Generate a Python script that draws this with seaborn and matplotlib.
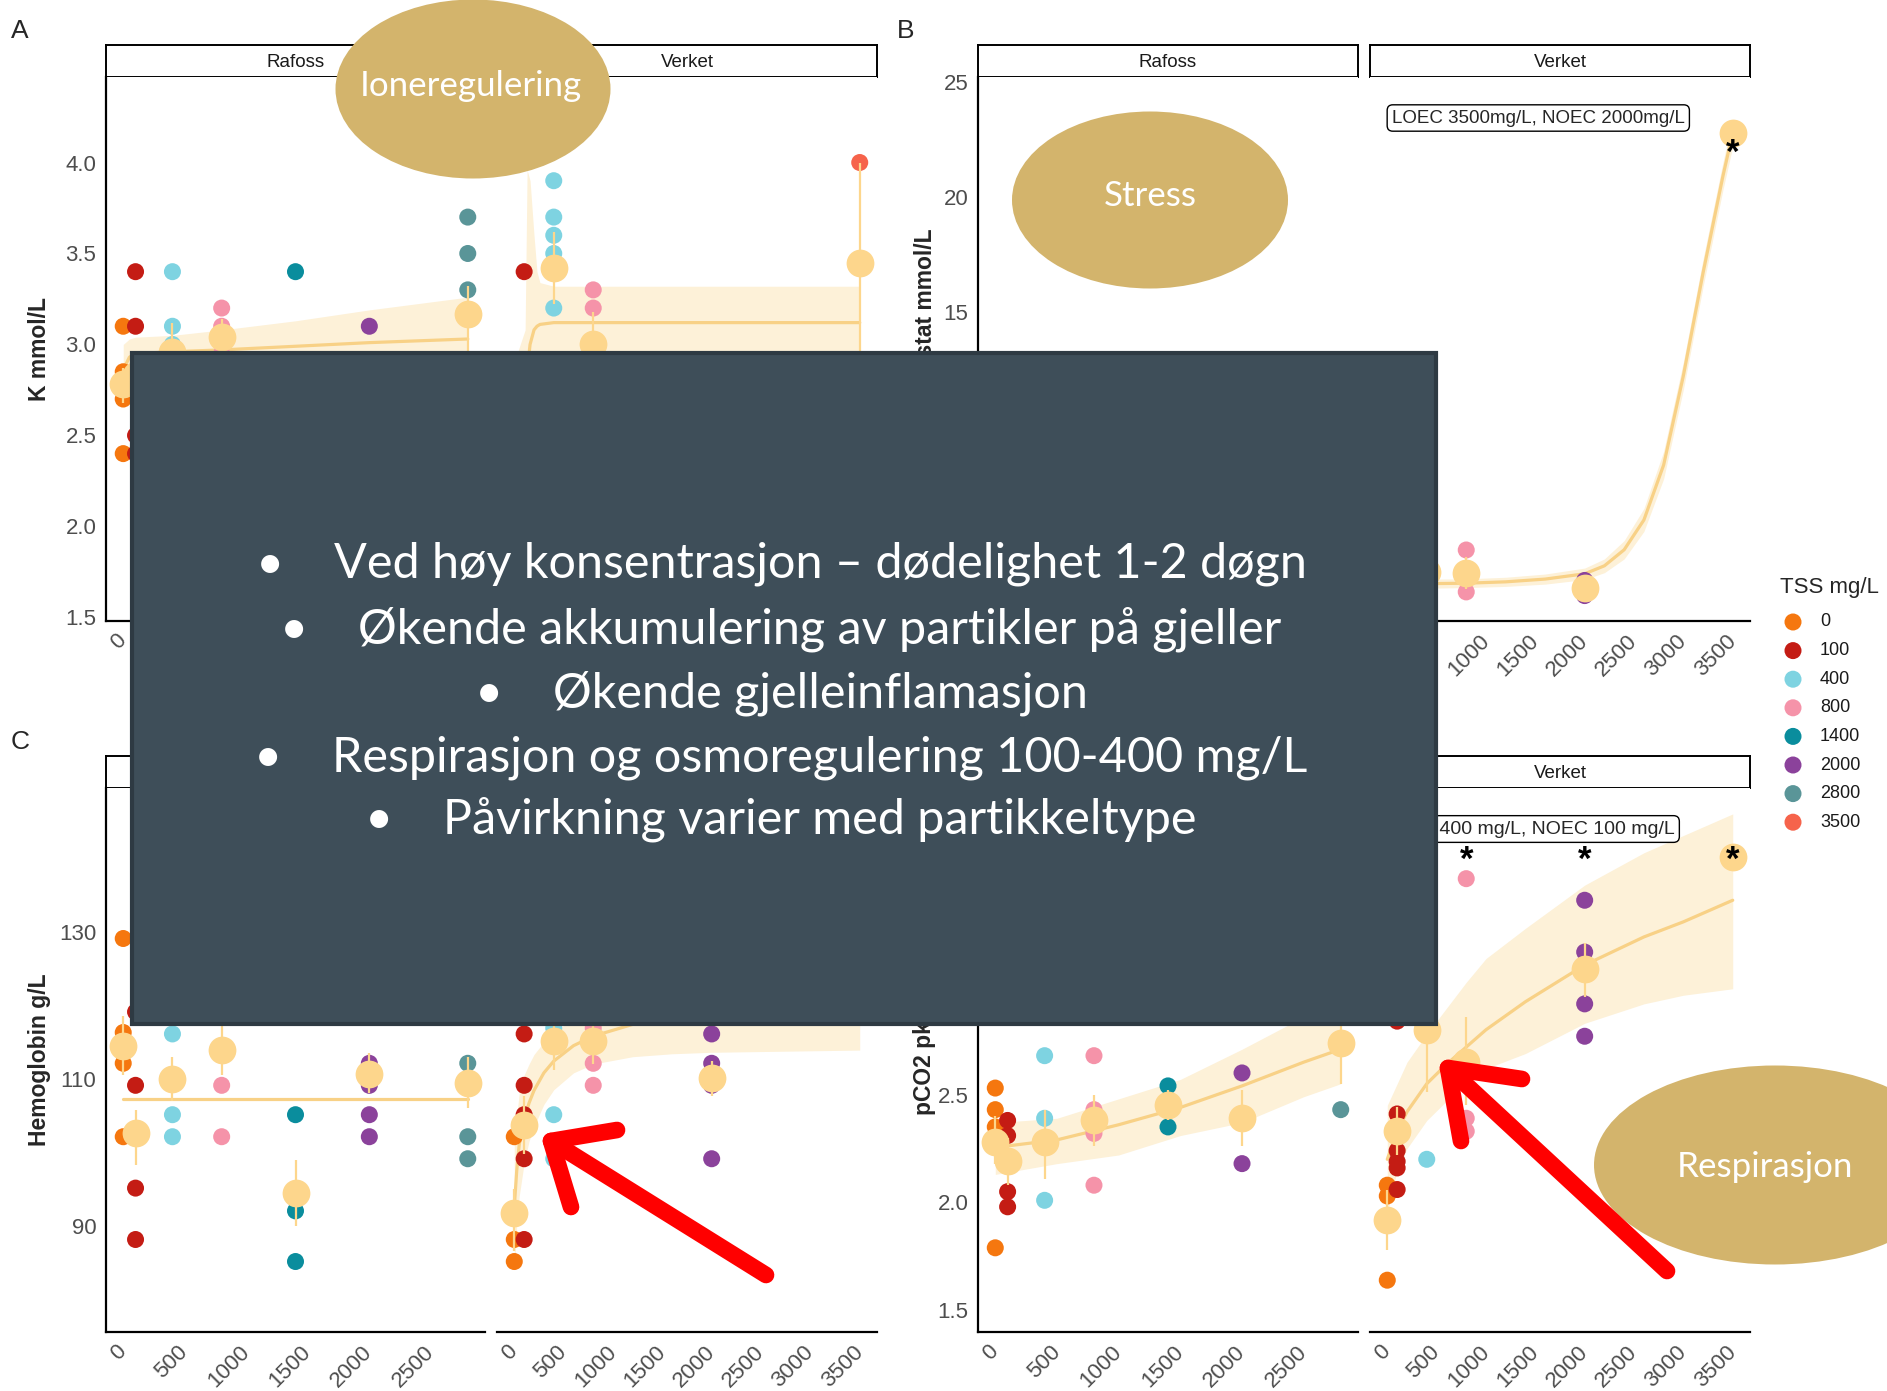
import matplotlib
matplotlib.use("Agg")
import matplotlib.pyplot as plt
import seaborn as sns
from matplotlib.patches import Ellipse, Rectangle

W, H = 1887, 1391

# TSS-nivåer og farger
tss_levels = [0, 100, 400, 800, 1400, 2000, 2800, 3500]
tss_colors = ['#F5770F', '#C41C14', '#7ED3E1', '#F593A9', '#0A8D9D', '#8B429B', '#5A9598', '#F6634B']
MEAN_COL = '#FDD68C'
FIT_COL = '#F8D186'
RIBBON_COL = '#FDF1D8'

# --- A: K mmol/L ---
k_raf_tss = [0, 0, 0, 0, 100, 100, 100, 100, 400, 400, 400, 400, 400, 800, 800, 800, 800,
             1400, 1400, 1400, 2000, 2000, 2800, 2800, 2800, 2800, 2800]
k_raf_val = [3.1, 2.7, 2.4, 2.85, 3.4, 3.1, 2.5, 2.4, 3.4, 3.1, 3.0, 2.75, 2.6, 3.2, 3.1, 2.95, 2.9,
             3.4, 2.6, 2.4, 3.1, 2.5, 3.7, 3.5, 3.3, 2.9, 2.5]
k_raf_m_tss = [0, 100, 400, 800, 1400, 2000, 2800]
k_raf_mean = [2.78, 2.83, 2.96, 3.04, 2.75, 2.7, 3.17]
k_raf_lo = [2.68, 2.6, 2.8, 2.94, 2.55, 2.55, 2.94]
k_raf_hi = [2.87, 2.95, 3.12, 3.14, 2.92, 2.88, 3.32]
k_raf_fit_x = [0, 50, 100, 400, 800, 1400, 2000, 2800]
k_raf_fit_y = [2.86, 2.93, 2.95, 2.96, 2.97, 2.99, 3.01, 3.03]
k_raf_fit_lo = [2.70, 2.82, 2.86, 2.87, 2.86, 2.84, 2.82, 2.80]
k_raf_fit_hi = [3.00, 3.03, 3.04, 3.05, 3.08, 3.13, 3.19, 3.26]

k_ver_tss = [0, 0, 0, 100, 100, 100, 400, 400, 400, 400, 400, 800, 800, 800, 800, 2000, 2000, 3500, 3500]
k_ver_val = [2.6, 2.4, 2.8, 3.4, 2.7, 2.5, 3.9, 3.7, 3.6, 3.5, 3.2, 3.3, 3.2, 2.8, 2.7, 2.9, 2.8, 4.0, 2.9]
k_ver_m_tss = [0, 100, 400, 800, 2000, 3500]
k_ver_mean = [2.6, 2.8, 3.42, 3.0, 2.85, 3.45]
k_ver_lo = [2.45, 2.62, 3.22, 2.82, 2.8, 2.9]
k_ver_hi = [2.75, 2.95, 3.62, 3.18, 2.9, 4.0]
k_ver_fit_x = [0, 60, 110, 130, 160, 200, 230, 260, 400, 1000, 2000, 3500]
k_ver_fit_y = [2.2, 2.45, 2.7, 2.85, 3.0, 3.08, 3.10, 3.11, 3.12, 3.12, 3.12, 3.12]
k_ver_fit_lo = [1.5, 1.9, 2.3, 2.5, 2.7, 2.84, 2.88, 2.9, 2.92, 2.93, 2.93, 2.93]
k_ver_fit_hi = [2.9, 3.0, 3.08, 3.96, 3.9, 3.6, 3.4, 3.34, 3.32, 3.32, 3.32, 3.32]

# --- B: Laktat mmol/L ---
lak_raf_tss = [0, 0, 100, 100, 400, 400, 800, 800, 1400, 1400, 2000, 2000, 2800, 2800]
lak_raf_val = [2.8, 3.4, 3.0, 3.6, 3.2, 2.7, 3.5, 2.9, 3.1, 3.8, 3.3, 2.6, 3.9, 3.4]
lak_raf_m_tss = [0, 100, 400, 800, 1400, 2000, 2800]
lak_raf_mean = [3.1, 3.3, 2.95, 3.2, 3.45, 2.95, 3.65]
lak_raf_lo = [2.8, 3.0, 2.7, 2.9, 3.1, 2.6, 3.4]
lak_raf_hi = [3.4, 3.6, 3.2, 3.5, 3.8, 3.3, 3.9]
lak_raf_fit_x = [0, 1000, 2000, 2800]
lak_raf_fit_y = [3.1, 3.2, 3.3, 3.4]
lak_raf_fit_lo = [2.8, 3.0, 3.0, 2.9]
lak_raf_fit_hi = [3.4, 3.4, 3.6, 3.9]

lak_ver_tss = [0, 0, 100, 100, 400, 400, 800, 800, 2000, 2000, 3500]
lak_ver_val = [3.0, 2.6, 3.5, 2.9, 4.1, 3.1, 4.59, 2.76, 3.26, 2.60, 22.8]
lak_ver_m_tss = [0, 100, 400, 800, 2000, 3500]
lak_ver_mean = [2.8, 3.2, 3.65, 3.58, 2.95, 22.8]
lak_ver_lo = [2.6, 2.9, 3.1, 2.9, 2.65, 22.8]
lak_ver_hi = [3.0, 3.5, 4.1, 4.3, 3.25, 22.8]
lak_ver_fit_x = [0, 400, 800, 1200, 1600, 2000, 2200, 2400, 2600, 2800, 3000, 3200, 3400, 3500]
lak_ver_fit_y = [3.10, 3.12, 3.14, 3.2, 3.32, 3.55, 3.9, 4.6, 5.9, 8.3, 12.2, 16.7, 20.9, 22.8]
lak_ver_fit_lo = [2.85, 2.92, 2.95, 3.0, 3.1, 3.3, 3.6, 4.2, 5.4, 7.7, 11.6, 16.1, 20.3, 22.2]
lak_ver_fit_hi = [3.35, 3.32, 3.33, 3.4, 3.54, 3.8, 4.2, 5.0, 6.4, 8.9, 12.8, 17.3, 21.5, 23.4]

# --- C: Hemoglobin g/L ---
hb_raf_tss = [0, 0, 0, 0, 100, 100, 100, 100, 400, 400, 400, 400, 800, 800, 800, 800,
              1400, 1400, 1400, 2000, 2000, 2000, 2000, 2800, 2800, 2800]
hb_raf_val = [129.1, 116.3, 112.1, 102.1, 119.1, 109.1, 95.1, 88.1, 116.1, 105.1, 102.1, 120.0,
              109.1, 102.1, 125.0, 128.0, 105.1, 92.0, 85.1, 112.1, 109.1, 105.1, 102.1, 112.1, 102.1, 99.1]
hb_raf_m_tss = [0, 100, 400, 800, 1400, 2000, 2800]
hb_raf_mean = [114.5, 102.6, 109.9, 113.9, 94.5, 110.6, 109.4]
hb_raf_lo = [110.5, 98.3, 107.0, 110.5, 89.9, 108.0, 106.0]
hb_raf_hi = [118.5, 105.8, 113.0, 118.5, 98.9, 113.5, 113.0]
hb_raf_fit_x = [0, 2800]
hb_raf_fit_y = [107.2, 107.2]

hb_ver_tss = [0, 0, 0, 100, 100, 100, 100, 100, 400, 400, 400, 400, 800, 800, 800, 800,
              2000, 2000, 2000, 2000, 3500]
hb_ver_val = [102.1, 88.1, 85.1, 116.1, 109.1, 105.1, 99.1, 88.1, 116.9, 105.1, 99.1, 130.0,
              116.9, 112.1, 109.1, 122.0, 116.1, 112.1, 109.1, 99.1, 124.0]
hb_ver_m_tss = [0, 100, 400, 800, 2000, 3500]
hb_ver_mean = [91.7, 103.7, 115.1, 115.1, 110.1, 124.0]
hb_ver_lo = [86.6, 99.8, 111.2, 112.0, 107.6, 120.0]
hb_ver_hi = [95.0, 107.6, 119.0, 118.2, 112.4, 128.0]
hb_ver_fit_x = [0, 25, 50, 100, 150, 200, 300, 400, 600, 800, 1200, 1600, 2000, 2500, 3000, 3500]
hb_ver_fit_y = [92.5, 97.5, 101.0, 104.5, 106.7, 108.4, 110.8, 112.4, 114.5, 115.8, 117.4, 118.4,
                119.0, 119.6, 120.0, 120.3]
hb_ver_fit_lo = [84.0, 90.0, 94.0, 98.5, 101.5, 103.5, 106.5, 108.5, 110.8, 112.0, 113.0, 113.4,
                 113.6, 113.7, 113.8, 113.9]
hb_ver_fit_hi = [101.0, 105.0, 108.0, 110.5, 112.0, 113.3, 115.0, 116.3, 118.2, 119.6, 121.8, 123.4,
                 124.4, 125.5, 126.2, 126.7]

# --- D: pCO2 ---
pco_raf_tss = [0, 0, 0, 0, 100, 100, 100, 100, 400, 400, 400, 800, 800, 800, 800,
               1400, 1400, 2000, 2000, 2800, 2800, 2800]
pco_raf_val = [2.53, 2.43, 2.35, 1.79, 2.38, 2.31, 2.05, 1.98, 2.68, 2.39, 2.01, 2.68, 2.43, 2.32, 2.08,
               2.54, 2.35, 2.60, 2.18, 2.43, 3.05, 2.95]
pco_raf_m_tss = [0, 100, 400, 800, 1400, 2000, 2800]
pco_raf_mean = [2.28, 2.19, 2.28, 2.38, 2.45, 2.39, 2.74]
pco_raf_lo = [2.18, 2.08, 2.11, 2.26, 2.38, 2.26, 2.55]
pco_raf_hi = [2.40, 2.30, 2.43, 2.50, 2.52, 2.52, 2.86]
pco_raf_fit_x = [0, 500, 1000, 1500, 2000, 2500, 2800]
pco_raf_fit_y = [2.255, 2.29, 2.36, 2.44, 2.54, 2.65, 2.71]
pco_raf_fit_lo = [2.13, 2.18, 2.22, 2.31, 2.37, 2.49, 2.55]
pco_raf_fit_hi = [2.37, 2.39, 2.48, 2.57, 2.71, 2.86, 2.92]

pco_ver_tss = [0, 0, 0, 100, 100, 100, 100, 100, 100, 400, 400, 400, 800, 800, 800,
               2000, 2000, 2000, 2000, 3500]
pco_ver_val = [2.08, 2.03, 1.64, 2.41, 2.24, 2.19, 2.16, 2.06, 2.84, 2.20, 3.1, 3.2, 3.50, 2.39, 2.33,
               3.40, 3.16, 2.92, 2.77, 3.60]
pco_ver_m_tss = [0, 100, 400, 800, 2000, 3500]
pco_ver_mean = [1.92, 2.33, 2.80, 2.65, 3.08, 3.60]
pco_ver_lo = [1.78, 2.22, 2.51, 2.45, 2.95, 3.60]
pco_ver_hi = [2.06, 2.44, 3.09, 2.86, 3.20, 3.60]
pco_ver_fit_x = [0, 100, 200, 400, 600, 800, 1000, 1400, 2000, 2600, 3000, 3500]
pco_ver_fit_y = [2.2, 2.33, 2.42, 2.55, 2.64, 2.72, 2.80, 2.93, 3.10, 3.23, 3.30, 3.40]
pco_ver_fit_lo = [1.95, 2.15, 2.25, 2.38, 2.47, 2.55, 2.62, 2.69, 2.83, 2.92, 2.96, 2.99]
pco_ver_fit_hi = [2.45, 2.55, 2.65, 2.78, 2.90, 3.02, 3.13, 3.27, 3.47, 3.62, 3.70, 3.80]

bullet_lines = ["Ved høy konsentrasjon – dødelighet 1-2 døgn",
                "Økende akkumulering av partikler på gjeller",
                "Økende gjelleinflamasjon",
                "Respirasjon og osmoregulering 100-400 mg/L",
                "Påvirkning varier med partikkeltype"]

PAL = {str(t): c for t, c in zip(tss_levels, tss_colors)}

sns.set_style("white")
plt.rcParams['font.family'] = ['Liberation Sans', 'DejaVu Sans']
BOXFONT = ['Lato', 'DejaVu Sans']

fig = plt.figure(figsize=(W / 100, H / 100), dpi=100)


def px_axes(x0, x1, y0, y1):
    return fig.add_axes([x0 / W, 1 - y1 / H, (x1 - x0) / W, (y1 - y0) / H])


def strip(x0, x1, y0, y1, label):
    sa = px_axes(x0, x1, y0, y1)
    sa.set_xticks([])
    sa.set_yticks([])
    for sp in sa.spines.values():
        sp.set_linewidth(1.4)
        sp.set_color('black')
    sa.text(0.5, 0.45, label, ha='center', va='center', fontsize=13.5, color='#1A1A1A',
            transform=sa.transAxes)


def facet(ax, tss, val, m_tss, m_val, m_lo, m_hi, fit_x, fit_y, fit_lo, fit_hi,
          xmax, ylim, yticks, yfmt, left):
    if fit_lo is not None:
        ax.fill_between(fit_x, fit_lo, fit_hi, color=RIBBON_COL, lw=0, zorder=1)
    ax.plot(fit_x, fit_y, color=FIT_COL, lw=2.3, zorder=2)
    sns.scatterplot(x=tss, y=val, hue=[str(t) for t in tss], palette=PAL, s=150, linewidth=0,
                    legend=False, ax=ax, zorder=3)
    ax.vlines(m_tss, m_lo, m_hi, color=MEAN_COL, lw=1.6, zorder=4)
    sns.scatterplot(x=m_tss, y=m_val, color=MEAN_COL, s=400, linewidth=0, legend=False, ax=ax, zorder=5)
    ax.set_xlim(-0.05 * xmax, 1.05 * xmax)
    ax.set_ylim(*ylim)
    xt = list(range(0, xmax + 1, 500))
    ax.set_xticks(xt)
    ax.set_xticklabels([str(v) for v in xt], rotation=45, ha='right', va='center', rotation_mode='anchor')
    ax.set_xlabel('')
    ax.set_ylabel('')
    for s in ['top', 'right']:
        ax.spines[s].set_visible(False)
    for s in ['bottom', 'left']:
        ax.spines[s].set_linewidth(1.6)
        ax.spines[s].set_color('black')
    ax.tick_params(length=4, width=1.2, color='#333333', labelsize=16, labelcolor='#4D4D4D', pad=3)
    ax.tick_params(axis='x', pad=8)
    if left:
        ax.set_yticks(yticks)
        ax.set_yticklabels([yfmt.format(v) for v in yticks])
    else:
        ax.spines['left'].set_visible(False)
        ax.tick_params(axis='y', left=False, labelleft=False)


COL_L = [(106, 485), (497, 877)]
COL_R = [(978, 1358), (1370, 1750)]
ROW_T = (45, 77, 621)
ROW_B = (756, 788, 1332)

panels = [
    (COL_L, ROW_T, (1.48, 4.47), [1.5, 2.0, 2.5, 3.0, 3.5, 4.0], '{:.1f}',
     (k_raf_tss, k_raf_val, k_raf_m_tss, k_raf_mean, k_raf_lo, k_raf_hi,
      k_raf_fit_x, k_raf_fit_y, k_raf_fit_lo, k_raf_fit_hi),
     (k_ver_tss, k_ver_val, k_ver_m_tss, k_ver_mean, k_ver_lo, k_ver_hi,
      k_ver_fit_x, k_ver_fit_y, k_ver_fit_lo, k_ver_fit_hi)),
    (COL_R, ROW_T, (1.49, 25.24), [5, 10, 15, 20, 25], '{:.0f}',
     (lak_raf_tss, lak_raf_val, lak_raf_m_tss, lak_raf_mean, lak_raf_lo, lak_raf_hi,
      lak_raf_fit_x, lak_raf_fit_y, lak_raf_fit_lo, lak_raf_fit_hi),
     (lak_ver_tss, lak_ver_val, lak_ver_m_tss, lak_ver_mean, lak_ver_lo, lak_ver_hi,
      lak_ver_fit_x, lak_ver_fit_y, lak_ver_fit_lo, lak_ver_fit_hi)),
    (COL_L, ROW_B, (75.5, 149.6), [90, 110, 130], '{:.0f}',
     (hb_raf_tss, hb_raf_val, hb_raf_m_tss, hb_raf_mean, hb_raf_lo, hb_raf_hi,
      hb_raf_fit_x, hb_raf_fit_y, None, None),
     (hb_ver_tss, hb_ver_val, hb_ver_m_tss, hb_ver_mean, hb_ver_lo, hb_ver_hi,
      hb_ver_fit_x, hb_ver_fit_y, hb_ver_fit_lo, hb_ver_fit_hi)),
    (COL_R, ROW_B, (1.40, 3.92), [1.5, 2.0, 2.5, 3.0, 3.5], '{:.1f}',
     (pco_raf_tss, pco_raf_val, pco_raf_m_tss, pco_raf_mean, pco_raf_lo, pco_raf_hi,
      pco_raf_fit_x, pco_raf_fit_y, pco_raf_fit_lo, pco_raf_fit_hi),
     (pco_ver_tss, pco_ver_val, pco_ver_m_tss, pco_ver_mean, pco_ver_lo, pco_ver_hi,
      pco_ver_fit_x, pco_ver_fit_y, pco_ver_fit_lo, pco_ver_fit_hi)),
]

verket_axes = []
for cols, row, ylim, yticks, yfmt, raf, ver in panels:
    s0, p0, p1 = row
    (rx0, rx1), (vx0, vx1) = cols
    strip(rx0, rx1, s0, p0, 'Rafoss')
    strip(vx0, vx1, s0, p0, 'Verket')
    ax_r = px_axes(rx0, rx1, p0, p1)
    facet(ax_r, *raf, xmax=2800, ylim=ylim, yticks=yticks, yfmt=yfmt, left=True)
    ax_v = px_axes(vx0, vx1, p0, p1)
    facet(ax_v, *ver, xmax=3500, ylim=ylim, yticks=yticks, yfmt=yfmt, left=False)
    verket_axes.append(ax_v)

# LOEC / NOEC etiketter og stjerner
ax_b, ax_d = verket_axes[1], verket_axes[3]
lbl_box = dict(boxstyle='round,pad=0.25,rounding_size=0.3', fc='white', ec='black', lw=1)
ax_b.text(1530, 23.45, 'LOEC 3500mg/L, NOEC 2000mg/L', ha='center', va='center', fontsize=13.5,
          bbox=lbl_box, zorder=6)
ax_d.text(2910, 3.73, 'LOEC 400 mg/L, NOEC 100 mg/L', ha='right', va='center', fontsize=14,
          bbox=lbl_box, zorder=6)
for ax, xs, y in [(ax_b, [3500], 22.36), (ax_d, [800, 2000, 3500], 3.63)]:
    for x in xs:
        ax.annotate('*', (x, y), xytext=(0, -14), textcoords='offset points', ha='center',
                    va='baseline', fontsize=25, fontweight='bold', color='black', zorder=7)

# overlay i pikselkoordinater
ov = fig.add_axes([0, 0, 1, 1])
ov.axis('off')
ov.patch.set_visible(False)

ylab_font = dict(rotation=90, ha='center', fontsize=16.5, fontweight='bold', zorder=1)
ov.text(40, 349, 'K mmol/L', va='center', **ylab_font)
ov.text(925, 228, 'Laktat i-stat mmol/L', va='top', **ylab_font)
ov.text(40, 1060, 'Hemoglobin g/L', va='center', **ylab_font)
ov.text(925, 1115, 'pCO2 pkPa', va='bottom', **ylab_font)
for x, y, s in [(20, 31, 'A'), (906, 31, 'B'), (20, 742, 'C')]:
    ov.text(x, y, s, ha='center', va='center', fontsize=19, zorder=1)

# legende
ov.text(1780, 593, 'TSS mg/L', ha='left', va='baseline', fontsize=16, zorder=1)
leg_y = [622 + 28.6 * i for i in range(len(tss_levels))]
sns.scatterplot(x=[1793] * len(tss_levels), y=leg_y, hue=[str(t) for t in tss_levels], palette=PAL,
                s=150, linewidth=0, legend=False, ax=ov, zorder=1)
for y, t in zip(leg_y, tss_levels):
    ov.text(1820, y, str(t), ha='left', va='center', fontsize=13, color='#1A1A1A', zorder=1)
ov.set_xlim(0, W)
ov.set_ylim(H, 0)

# mørk tekstboks
ov.add_patch(Rectangle((132, 353), 1304, 671, fc='#3E4E59', ec='#2E3A43', lw=3, zorder=5))
renderer = fig.canvas.get_renderer()
baselines = [578, 643, 707, 771, 833]
btxt = [ov.text(820, y, s, ha='center', va='baseline', color='white', family=BOXFONT,
                fontsize=36, zorder=6) for s, y in zip(bullet_lines, baselines)]
w0 = btxt[0].get_window_extent(renderer).width
fs = 36 * 975 / w0
for t in btxt:
    t.set_fontsize(fs)
for t, y in zip(btxt, baselines):
    x0 = t.get_window_extent(renderer).x0
    ov.text(x0 - 64, y, '•', ha='center', va='baseline', color='white', family=BOXFONT,
            fontsize=fs, zorder=6)

# ellipser
ELL_COL = '#D3B46C'
for cx, cy, ew, eh in [(473, 89, 275, 179), (1150, 200, 276, 177), (1775, 1165, 362, 199)]:
    ov.add_patch(Ellipse((cx, cy), ew, eh, fc=ELL_COL, ec='none', zorder=7))
etxt = [ov.text(x, y, s, ha='center', va='baseline', color='white', family=BOXFONT, fontsize=26, zorder=8)
        for x, y, s in [(471, 96, 'Ioneregulering'), (1150, 206, 'Stress'), (1765, 1177, 'Respirasjon')]]
w1 = etxt[0].get_window_extent(renderer).width
for t in etxt:
    t.set_fontsize(26 * 221 / w1)

# røde piler
for tail, tip, w1p, w2p in [((766, 1275), (551, 1141), (617, 1130), (571, 1207)),
                            ((1667, 1271), (1448, 1068), (1522, 1079), (1461, 1141))]:
    ov.plot([tail[0], tip[0]], [tail[1], tip[1]], color='#FF0000', lw=12, solid_capstyle='round', zorder=9)
    ov.plot([w1p[0], tip[0], w2p[0]], [w1p[1], tip[1], w2p[1]], color='#FF0000', lw=12,
            solid_capstyle='round', solid_joinstyle='round', zorder=9)

fig.savefig('out.png', dpi=100)
